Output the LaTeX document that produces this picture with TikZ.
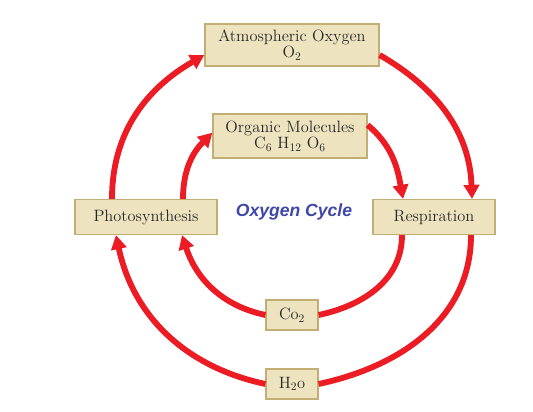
\documentclass[tikz,border=0pt]{standalone}
\usepackage{fontspec}
\usepackage{tikz}
\usetikzlibrary{arrows.meta}
\newfontfamily\titlefont{Liberation Sans}
\definecolor{boxfill}{HTML}{EDE3BF}
\definecolor{boxedge}{HTML}{C2AE74}
\definecolor{cyclered}{HTML}{EC1C24}
\definecolor{cycleblue}{HTML}{3F47A8}

\begin{document}
\begin{tikzpicture}[
    x=0.03cm, y=0.03cm,
    stagebox/.style={
      rectangle,
      fill=boxfill, draw=boxedge, line width=1pt,
      text=black!85, font=\fontsize{14}{14}\selectfont,
      inner sep=2pt, align=center,
    },
    smallbox/.style={
      stagebox, minimum width=1.56cm, minimum height=0.9cm,
    },
    flow/.style={draw=cyclered, line width=5pt},
    flowtip/.style={flow, -{Triangle[length=12pt,width=13pt]}},
    cyclelab/.style={font=\titlefont\fontsize{15}{16}\selectfont\bfseries\itshape, text=cycleblue},
  ]
  \useasboundingbox (0,0) rectangle (533,411);

  % --- Stages ---
  \node[stagebox, minimum width=5.22cm, minimum height=1.26cm] (atm) at (292,366)
    {Atmospheric Oxygen\\O\textsubscript{2}};
  \node[stagebox, minimum width=4.62cm, minimum height=1.32cm] (org) at (290,275)
    {Organic Molecules\\C\textsubscript{6} H\textsubscript{12} O\textsubscript{6}};
  \node[stagebox, minimum width=4.26cm, minimum height=1.05cm] (photo) at (146,194)
    {Photosynthesis};
  \node[stagebox, minimum width=3.66cm, minimum height=1.05cm] (resp) at (434,194)
    {Respiration};
  \node[smallbox] (co2) at (292,96) {Co\textsubscript{2}};
  \node[smallbox] (h2o) at (292,27) {H\textsubscript{2}o};

  \node[cyclelab] (title) at (294,199) {Oxygen Cycle};

  % ================================================================
  %  OUTER LOOP
  % ================================================================
  \draw[flowtip] ([xshift=-1.02cm]photo.north) to[out=90, in=210]
    ([yshift=-0.3cm]atm.west);
  \draw[flowtip] ([yshift=-0.3cm]atm.east) to[out=-30, in=92]
    ([xshift=1.14cm]resp.north);
  \draw[flow] ([xshift=1.11cm]resp.south) to[out=-90, in=12] (h2o.east);
  \draw[flowtip] (h2o.west) to[out=168, in=-78]
    ([xshift=-0.9cm]photo.south);

  % ================================================================
  %  INNER LOOP
  % ================================================================
  \draw[flowtip] ([xshift=1.11cm]photo.north) to[out=90, in=225]
    ([yshift=0.1cm]org.west);
  \draw[flowtip] ([yshift=0.33cm]org.east) to[out=-40, in=100]
    ([xshift=-0.93cm]resp.north);
  \draw[flow] ([xshift=-0.96cm]resp.south) to[out=-90, in=12] (co2.east);
  \draw[flowtip] (co2.west) to[out=168, in=-72]
    ([xshift=1.08cm]photo.south);

\end{tikzpicture}
\end{document}
